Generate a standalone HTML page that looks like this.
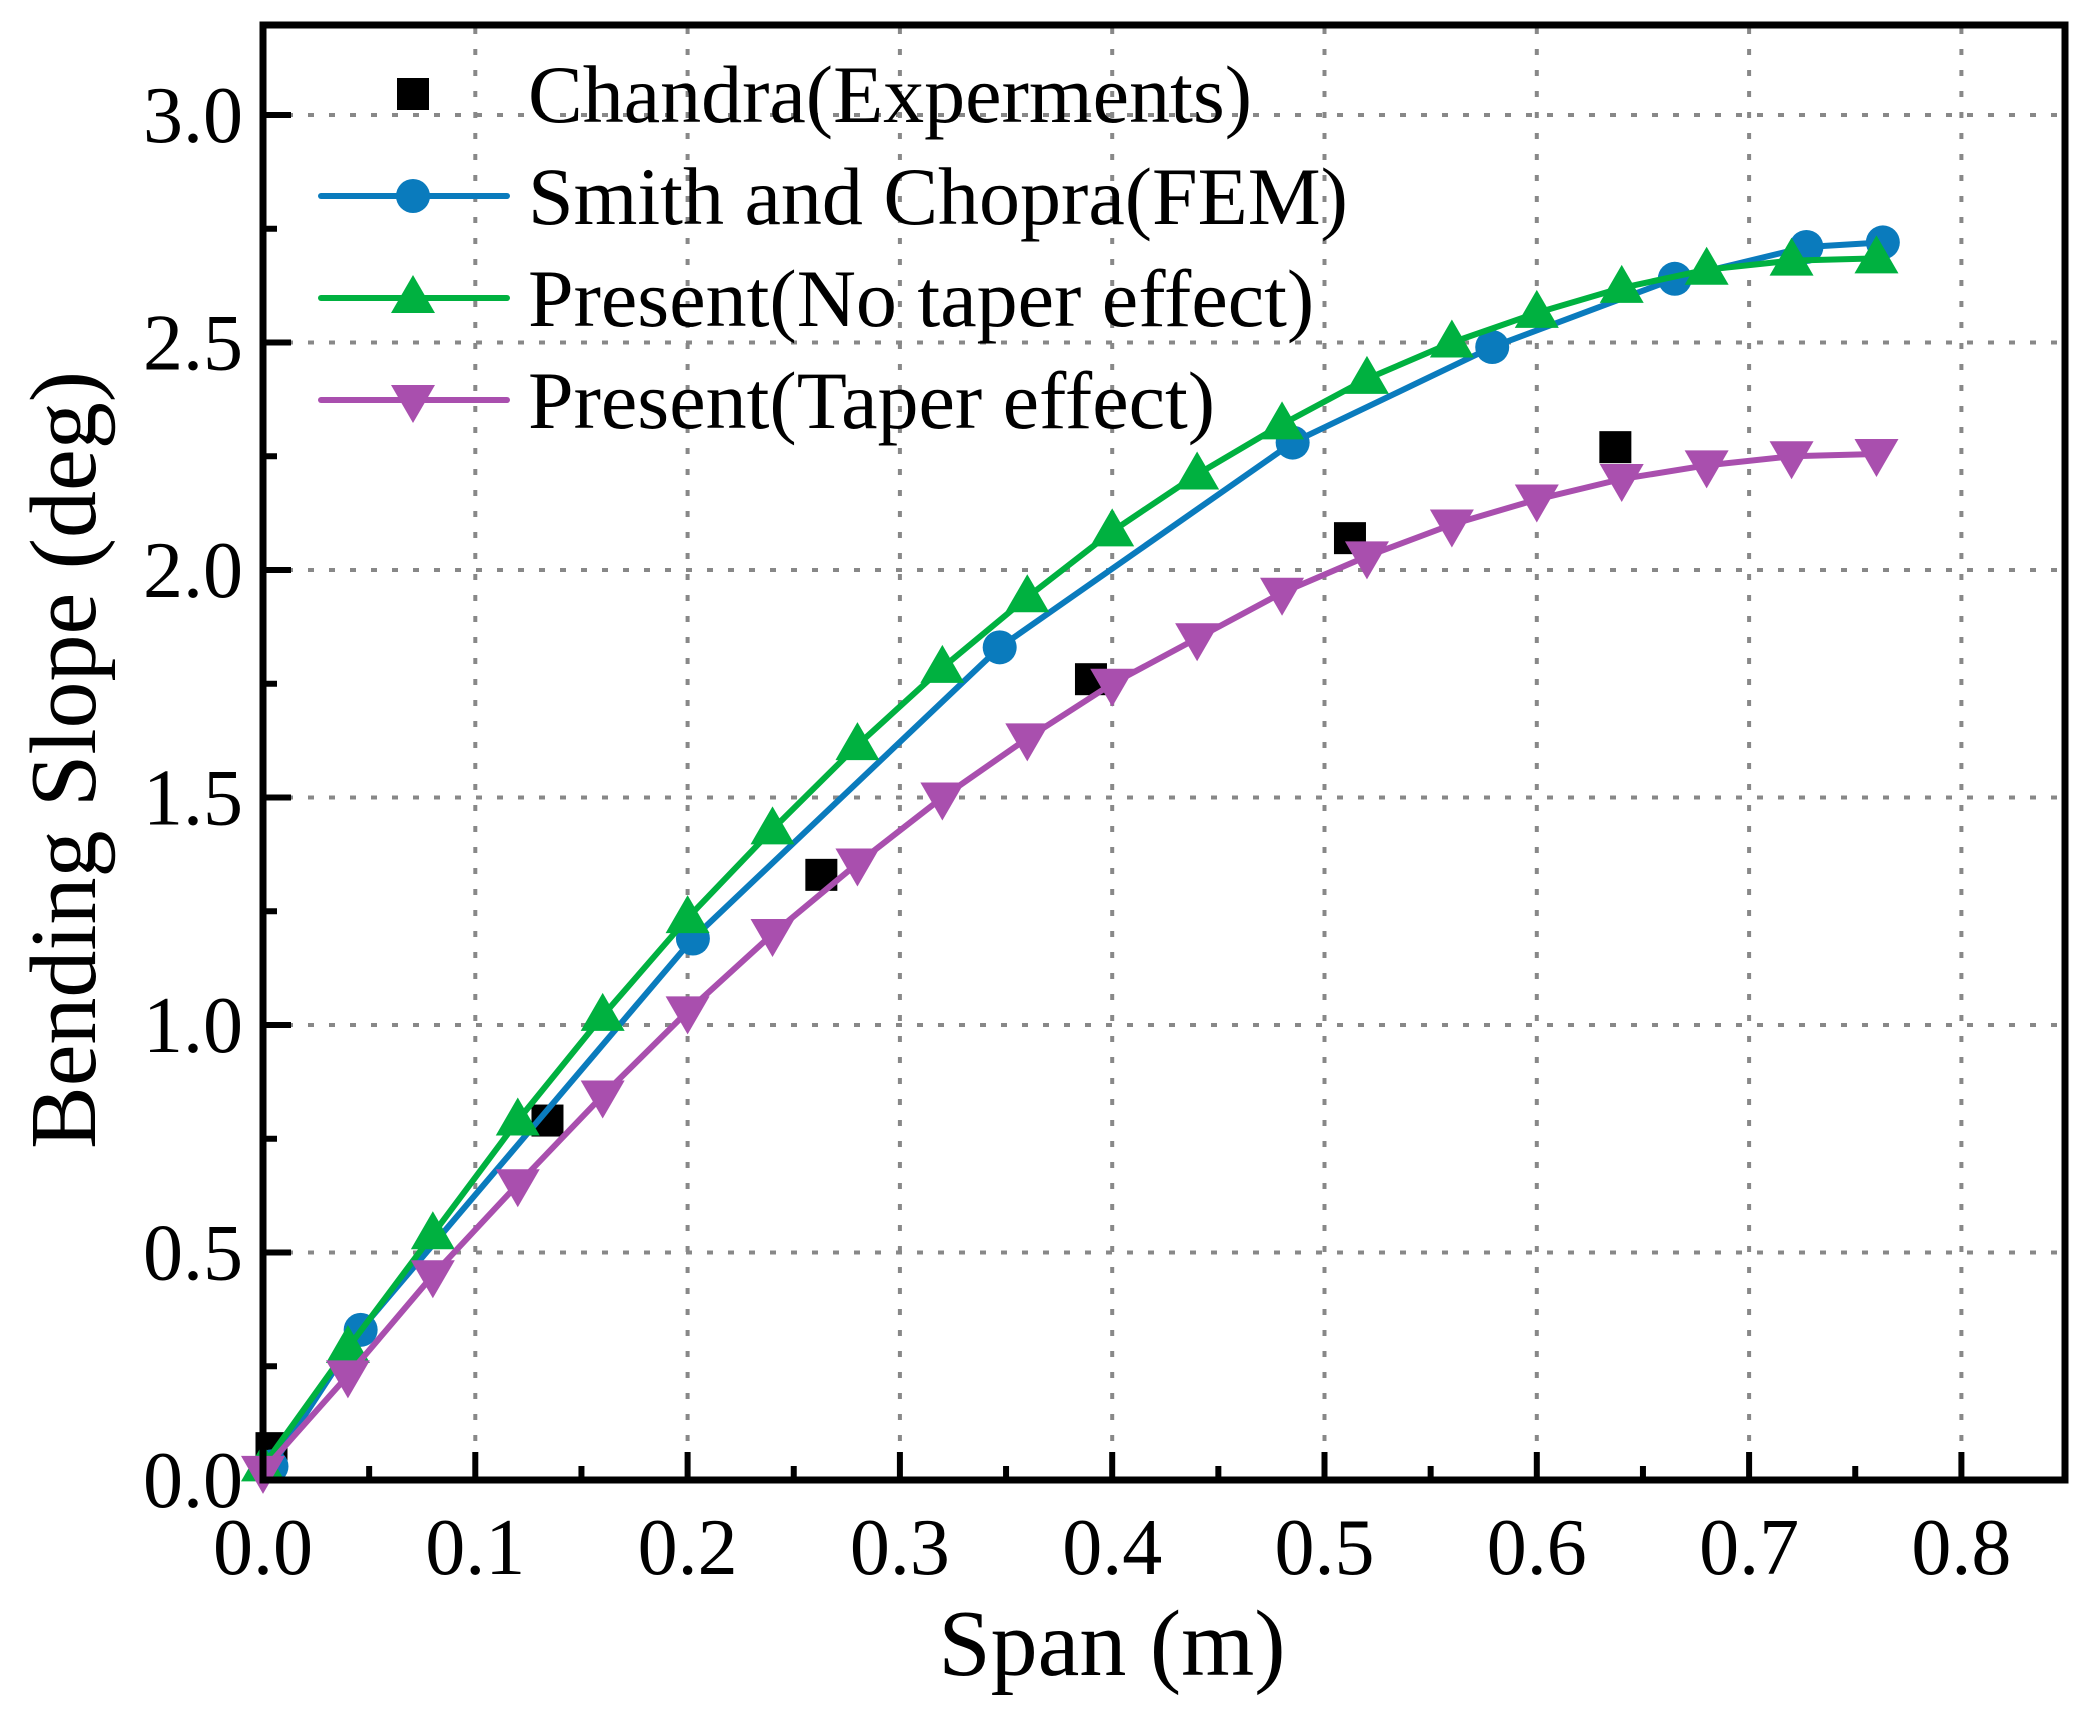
<!DOCTYPE html>
<html><head><meta charset="utf-8"><style>
html,body{margin:0;padding:0;background:#fff;}
svg{display:block;font-family:"Liberation Serif","Times New Roman",serif;}
</style></head><body>
<svg id="chart" width="2087" height="1710" viewBox="0 0 2087 1710" xmlns="http://www.w3.org/2000/svg">
<g id="grid"></g>
<g id="series"></g>
<rect x="263" y="25" width="1802" height="1455" fill="none" stroke="#000" stroke-width="7"/>
<g id="ticks"></g>
<text x="1112" y="1675" font-size="94" text-anchor="middle">Span (m)</text>
<text transform="translate(95,760) rotate(-90)" font-size="94" text-anchor="middle">Bending Slope (deg)</text>
<g id="legend"></g>
</svg>
<script>
const xTicks=[0,0.1,0.2,0.3,0.4,0.5,0.6,0.7,0.8];
const xTickLabels=["0.0","0.1","0.2","0.3","0.4","0.5","0.6","0.7","0.8"];
const yTicks=[0,0.5,1.0,1.5,2.0,2.5,3.0];
const yTickLabels=["0.0","0.5","1.0","1.5","2.0","2.5","3.0"];
const chandraX=[0.004,0.134,0.263,0.39,0.512,0.637];
const chandraY=[0.07,0.79,1.33,1.76,2.07,2.27];
const smithX=[0.004,0.046,0.2025,0.347,0.485,0.579,0.665,0.727,0.763];
const smithY=[0.03,0.33,1.19,1.83,2.28,2.49,2.64,2.71,2.72];
const presentX=[0,0.04,0.08,0.12,0.16,0.2,0.24,0.28,0.32,0.36,0.4,0.44,0.48,0.52,0.56,0.6,0.64,0.68,0.72,0.76];
const noTaperY=[0.03,0.29,0.54,0.79,1.02,1.235,1.43,1.615,1.785,1.94,2.085,2.21,2.32,2.42,2.5,2.565,2.62,2.66,2.68,2.685];
const taperY=[0.02,0.23,0.45,0.65,0.845,1.03,1.2,1.355,1.5,1.63,1.75,1.85,1.95,2.03,2.1,2.155,2.2,2.23,2.25,2.255];

const NS="http://www.w3.org/2000/svg";
const X=v=>263+v*2123;
const Y=v=>1480-v*455;
function mk(tag,attrs,parent){const e=document.createElementNS(NS,tag);for(const k in attrs)e.setAttribute(k,attrs[k]);parent.appendChild(e);return e;}
const grid=document.getElementById('grid'),ticks=document.getElementById('ticks'),series=document.getElementById('series'),legend=document.getElementById('legend');
const gs={stroke:"#888","stroke-width":4,"stroke-dasharray":"6 15"};
xTicks.forEach((v,i)=>{
  if(i>0){const g=mk('line',Object.assign({x1:X(v),x2:X(v),y1:28,y2:1477},gs),grid);
  
  }
  const t=mk('line',{x1:X(v),x2:X(v),y1:1480,y2:1452,stroke:"#000","stroke-width":6},ticks);
  
  
  if(i<xTicks.length-1){const m=mk('line',{x1:X(v+0.05),x2:X(v+0.05),y1:1480,y2:1466,stroke:"#000","stroke-width":6},ticks);
  
  }
  const l=mk('text',{x:X(v),y:1574,"font-size":80,"text-anchor":"middle"},ticks);l.textContent=xTickLabels[i];
  
  
});
yTicks.forEach((v,i)=>{
  if(i>0){const g=mk('line',Object.assign({y1:Y(v),y2:Y(v),x1:266,x2:2062},gs),grid);
  
  }
  const t=mk('line',{y1:Y(v),y2:Y(v),x1:263,x2:291,stroke:"#000","stroke-width":6},ticks);
  
  
  const mv=v+0.25;if(Y(mv)>30){const m=mk('line',{y1:Y(mv),y2:Y(mv),x1:263,x2:277,stroke:"#000","stroke-width":6},ticks);
  
  }
  const l=mk('text',{x:243,y:Y(v)+27,"font-size":80,"text-anchor":"end"},ticks);l.textContent=yTickLabels[i];
  
  
});
function marker(type,cx,cy,color,parent){
  let e;
  if(type==='sq')e=mk('rect',{x:cx-16,y:cy-16,width:32,height:32,fill:color},parent);
  else if(type==='c')e=mk('circle',{cx:cx,cy:cy,r:17,fill:color},parent);
  else if(type==='up')e=mk('polygon',{points:`${cx},${cy-23} ${cx-22},${cy+15} ${cx+22},${cy+15}`,fill:color},parent);
  else e=mk('polygon',{points:`${cx},${cy+23} ${cx-22},${cy-15} ${cx+22},${cy-15}`,fill:color},parent);
  return e;
}
function drawSeries(name,xs,ys,color,type,line){
  const g=mk('g',{},series);
  
  
  if(line){const p=mk('polyline',{points:xs.map((x,i)=>X(x)+','+Y(ys[i])).join(' '),fill:'none',stroke:color,'stroke-width':6,'stroke-linejoin':'round'},g);
  
  }
  xs.forEach((x,i)=>{const m=marker(type,X(x),Y(ys[i]),color,g);
  
  });
}
drawSeries('chandra-series',chandraX,chandraY,'#000','sq',false);
drawSeries('smith-chopra-series',smithX,smithY,'#0a7bbd','c',true);
drawSeries('no-taper-series',presentX,noTaperY,'#00b140','up',true);
drawSeries('taper-series',presentX,taperY,'#a94fae','down',true);
const legNames=['Chandra(Experments)','Smith and Chopra(FEM)','Present(No taper effect)','Present(Taper effect)'];
const legColors=['#000','#0a7bbd','#00b140','#a94fae'];
const legTypes=['sq','c','up','down'];
legNames.forEach((n,i)=>{
  const cy=94+i*102;
  const g=mk('g',{},legend);
  
  
  if(i>0)mk('line',{x1:321,x2:507,y1:cy,y2:cy,stroke:legColors[i],'stroke-width':6,'stroke-linecap':'round'},g);
  marker(legTypes[i],413,cy,legColors[i],g);
  const t=mk('text',{x:528,y:cy+28,'font-size':82},g);t.textContent=n;
  
  
});
</script>
</body></html>
